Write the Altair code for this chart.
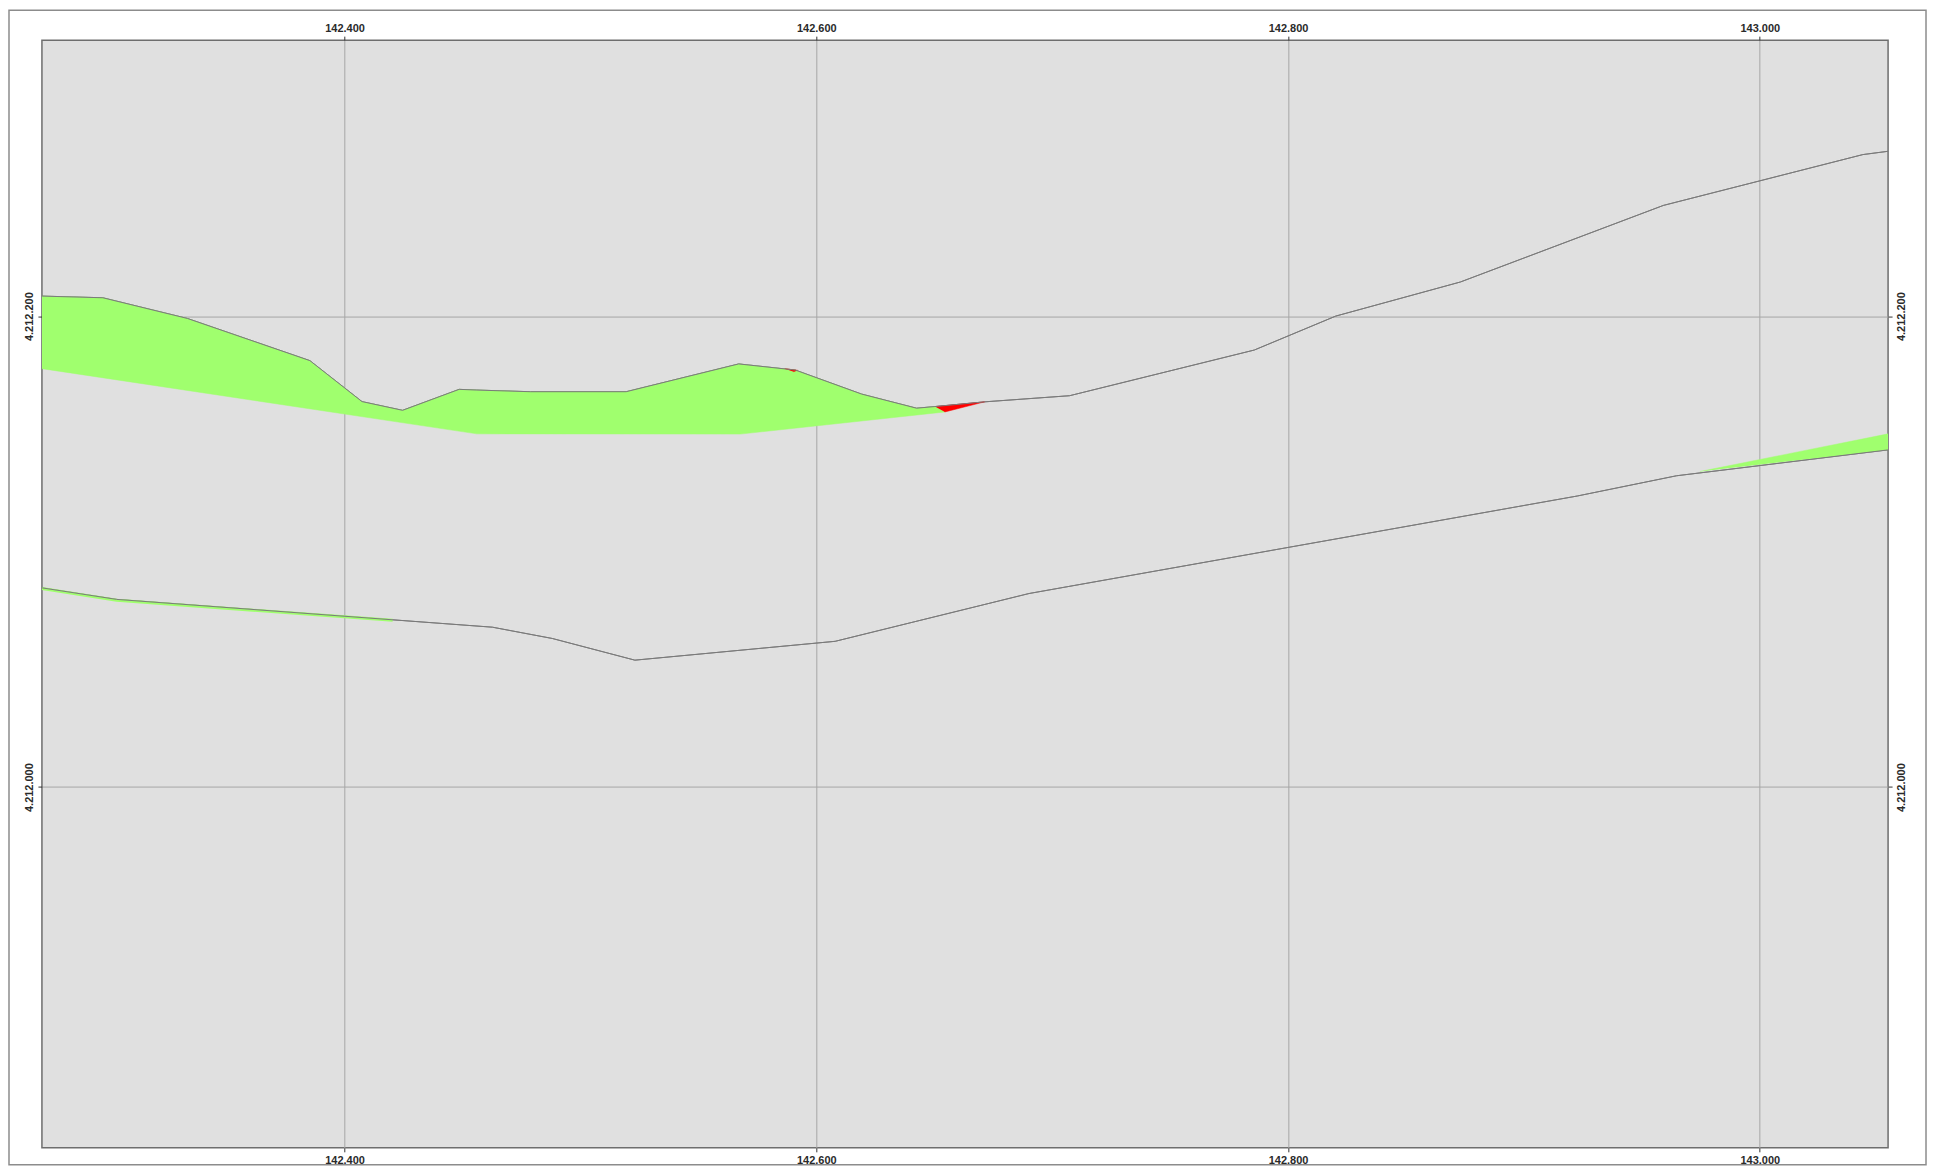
import altair as alt
import pandas as pd

# ---- scale extents and ticks (map coordinates, metres) ----
X_DOMAIN = [142271.7, 143054.4]
Y_DOMAIN = [4211846.8, 4212317.2]
X_TICKS = [142400, 142600, 142800, 143000]
Y_TICKS = [4212000, 4212200]

# ---- upper boundary line ----
upper_x = [142271.7, 142297.5, 142333.4, 142385.3, 142407.4, 142424.6, 142448.6,
           142456.1, 142478.8, 142519.4, 142567.1, 142591.1, 142619.2, 142642.5,
           142650.3, 142671.4, 142707.4, 142785.7, 142820.2, 142873.1, 142959.1,
           143043.7, 143054.4]
upper_y = [4212208.5, 4212207.8, 4212199.0, 4212181.1, 4212163.7, 4212160.0, 4212168.9,
           4212168.6, 4212167.9, 4212167.9, 4212179.7, 4212177.1, 4212166.9, 4212160.9,
           4212161.6, 4212163.6, 4212166.2, 4212185.6, 4212200.0, 4212214.5, 4212247.0,
           4212268.6, 4212270.0]

# ---- lower boundary line ----
lower_x = [142271.7, 142303.4, 142462.7, 142488.1, 142523.1, 142608.0, 142690.2,
           142922.6, 142964.7, 143054.4]
lower_y = [4212084.6, 4212079.7, 4212067.9, 4212063.1, 4212053.9, 4212061.9, 4212082.2,
           4212123.6, 4212132.2, 4212143.2]

# ---- green (fill) polygons ----
green_a_x = [142271.7, 142297.5, 142333.4, 142385.3, 142407.4, 142424.6, 142448.6,
             142456.1, 142478.8, 142519.4, 142567.1, 142591.1, 142619.2, 142642.5,
             142650.3, 142654.5, 142567.8, 142456.1, 142271.7]
green_a_y = [4212208.5, 4212207.8, 4212199.0, 4212181.1, 4212163.7, 4212160.0, 4212168.9,
             4212168.6, 4212167.9, 4212167.9, 4212179.7, 4212177.1, 4212166.9, 4212160.9,
             4212161.6, 4212159.3, 4212149.9, 4212150.0, 4212177.7]
green_b_x = [142974.6, 143054.4, 143054.4]
green_b_y = [4212134.0, 4212150.0, 4212143.2]
# thin green sliver along the lower line (left)
sliver_x = [142271.7, 142303.4, 142420.4]
sliver_y = [4212084.3, 4212079.3, 4212070.8]

# ---- red (cut) polygons ----
red_a_x = [142650.3, 142671.4, 142654.5]
red_a_y = [4212161.6, 4212163.6, 4212159.3]
red_b_x = [142586.6, 142592.0, 142590.4]
red_b_y = [4212177.7, 4212177.0, 4212176.4]

GREEN = "#a0ff6e"
RED = "#ff0000"
LINE = "#7a7a7a"
FONT = "Liberation Sans"


def poly_df(polys):
    rows = []
    for pid, (xs, ys) in enumerate(polys):
        for i, (x, y) in enumerate(zip(xs, ys)):
            rows.append({"pid": pid, "i": i, "x": x, "y": y})
    return pd.DataFrame(rows)


xs = alt.Scale(domain=X_DOMAIN, nice=False, zero=False)
ys = alt.Scale(domain=Y_DOMAIN, nice=False, zero=False)

label_expr = "replace(format(datum.value, ','), /,/g, '.')"
common_axis = dict(
    labelExpr=label_expr, domain=False, tickSize=4, tickColor="#333333",
    tickWidth=1, labelFont=FONT, labelFontWeight="bold", labelFontSize=11,
    labelColor="#2a2a2a", labelPadding=3, title=None,
)

ax_bottom = alt.Axis(orient="bottom", values=X_TICKS, grid=True, gridColor="#a6a6a6",
                     gridWidth=1, **common_axis)
ax_top = alt.Axis(orient="top", values=X_TICKS, grid=False, **common_axis)
ax_left = alt.Axis(orient="left", values=Y_TICKS, grid=True, gridColor="#a6a6a6",
                   gridWidth=1, labelAngle=270, labelAlign="center",
                   labelBaseline="bottom", **common_axis)
ax_right = alt.Axis(orient="right", values=Y_TICKS, grid=False, labelAngle=270,
                    labelAlign="center", labelBaseline="top", **common_axis)


def poly_layer(polys, color):
    return alt.Chart(poly_df(polys)).mark_line(
        fill=color, stroke=color, strokeWidth=0.5, clip=True
    ).encode(
        x=alt.X("x:Q", scale=xs, axis=None),
        y=alt.Y("y:Q", scale=ys, axis=None),
        detail="pid:N",
        order=alt.Order("i:Q"),
    )


green_layer = poly_layer([(green_a_x, green_a_y), (green_b_x, green_b_y)], GREEN)
red_layer = poly_layer([(red_a_x, red_a_y), (red_b_x, red_b_y)], RED)

sliver_layer = alt.Chart(poly_df([(sliver_x, sliver_y)])).mark_line(
    color=GREEN, strokeWidth=3, clip=True
).encode(
    x=alt.X("x:Q", scale=xs, axis=None),
    y=alt.Y("y:Q", scale=ys, axis=None),
    order=alt.Order("i:Q"),
)

lower_layer = alt.Chart(poly_df([(lower_x, lower_y)])).mark_line(
    color=LINE, strokeWidth=1, clip=True
).encode(
    x=alt.X("x:Q", scale=xs, axis=ax_bottom),
    y=alt.Y("y:Q", scale=ys, axis=ax_left),
    order=alt.Order("i:Q"),
)

upper_layer = alt.Chart(poly_df([(upper_x, upper_y)])).mark_line(
    color=LINE, strokeWidth=1, clip=True
).encode(
    x=alt.X("x:Q", scale=xs, axis=ax_top),
    y=alt.Y("y:Q", scale=ys, axis=ax_right),
    order=alt.Order("i:Q"),
)

frame_layer = alt.Chart(pd.DataFrame({"a": [0]})).mark_rect(
    fillOpacity=0, stroke="#8c8c8c", strokeWidth=1.5, clip=False
).encode(
    x=alt.value(-33), x2=alt.value(1888), y=alt.value(-30), y2=alt.value(1127)
)

chart = alt.layer(
    lower_layer, upper_layer, green_layer, red_layer, sliver_layer,
    lower_layer.encode(x=alt.X("x:Q", scale=xs, axis=None), y=alt.Y("y:Q", scale=ys, axis=None)),
    upper_layer.encode(x=alt.X("x:Q", scale=xs, axis=None), y=alt.Y("y:Q", scale=ys, axis=None)),
    frame_layer,
).resolve_axis(x="independent", y="independent").properties(
    width=1850, height=1110,
    autosize=alt.AutoSizeParams(type="none"),
    padding={"left": 34, "top": 31, "right": 40, "bottom": 20},
).configure(
    background="white",
    view=alt.ViewConfig(fill="#e0e0e0", stroke="#6e6e6e", strokeWidth=1.5),
)

chart.save("out.html", embed_options={"renderer": "svg", "actions": False})
